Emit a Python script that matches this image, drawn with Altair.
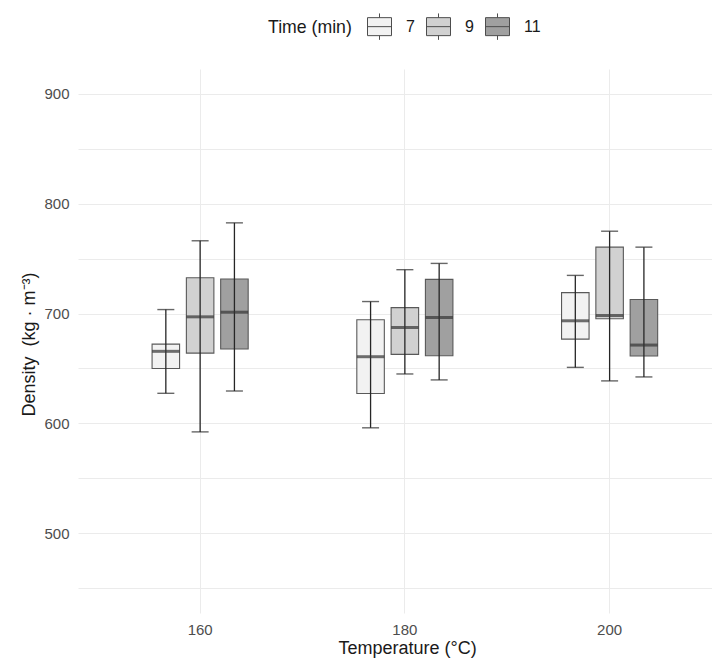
import altair as alt
import pandas as pd

# ---- data ----
temperature = ["160", "160", "160", "180", "180", "180", "200", "200", "200"]
time_min    = ["7", "9", "11", "7", "9", "11", "7", "9", "11"]
whisk_low   = [627.4, 592.3, 629.5, 596.0, 645.0, 639.6, 651.0, 638.7, 642.3]
q1          = [650.0, 664.0, 667.7, 627.2, 662.8, 661.6, 676.7, 695.2, 661.3]
median      = [665.6, 697.0, 701.2, 660.7, 687.3, 696.4, 693.4, 698.2, 671.3]
q3          = [672.2, 732.6, 731.4, 694.3, 705.4, 731.1, 719.0, 760.4, 712.7]
whisk_high  = [703.6, 766.2, 782.5, 710.9, 739.9, 745.6, 734.7, 774.9, 760.4]

temp_levels = ["160", "180", "200"]
time_levels = ["7", "9", "11"]
fill_colors = ["#f2f2f2", "#d1d1d1", "#a0a0a0"]
y_ticks = [450, 500, 550, 600, 650, 700, 750, 800, 850, 900]

df = pd.DataFrame({
    "temp": temperature, "time": time_min, "lo": whisk_low, "q1": q1,
    "med": median, "q3": q3, "hi": whisk_high,
})

FONT = "Liberation Sans"
YTITLE = "Density\u00a0 (kg · m⁻³)"

yscale = alt.Scale(domain=[427.5, 922.5], nice=False, zero=False)
yaxis = alt.Axis(
    values=y_ticks,
    labelExpr="datum.value % 100 == 0 ? datum.label : ''",
    grid=True, gridColor="#ebebeb", gridWidth=1,
    domain=False, ticks=False, tickSize=0, labelPadding=9,
    labelFontSize=15, labelColor="#4d4d4d", labelFont=FONT,
    titleFont=FONT, titleFontSize=18, titleFontWeight="normal", titleColor="#1a1a1a",
    titleX=-49, titleY=275, titleAngle=-90, titleAlign="center", titleBaseline="middle",
)

def Y(field):
    return alt.Y(f"{field}:Q", scale=yscale, axis=yaxis, title=YTITLE)

xaxis = alt.Axis(
    grid=True, gridColor="#ebebeb", gridWidth=1, bandPosition=0.5,
    domain=False, ticks=False, tickSize=0, labelPadding=9, labelAngle=0,
    labelFontSize=15, labelColor="#4d4d4d", labelFont=FONT,
    titleFont=FONT, titleFontSize=18, titleFontWeight="normal", titleColor="#1a1a1a",
    titleX=329, titleY=35, titleAlign="center", titleBaseline="middle",
)

base = alt.Chart(df).encode(
    x=alt.X("temp:N", sort=temp_levels, title="Temperature (°C)", axis=xaxis,
            scale=alt.Scale(domain=temp_levels, paddingInner=0, paddingOuter=0.0483,
                            align=1, round=False)),
    xOffset=alt.XOffset("time:N", sort=time_levels,
                        scale=alt.Scale(domain=time_levels, range=[54.3, 150.4],
                                        paddingInner=0.198, paddingOuter=0)),
)

legend_path = "M-1,-0.75H1V0.75H-1Z M-1,0H1 M0,-0.75V-1.1 M0,0.75V1.1"

bars = base.mark_bar(stroke="#595959", strokeWidth=1.1).encode(
    y=Y("q1"), y2="q3",
    fill=alt.Fill("time:N", sort=time_levels,
                  scale=alt.Scale(domain=time_levels, range=fill_colors),
                  legend=alt.Legend(
                      title="Time (min)", orient="none", legendX=190, legendY=-55,
                      direction="horizontal", titleOrient="left",
                      titleBaseline="middle", titleAnchor="middle",
                      symbolType=legend_path, symbolSize=576,
                      symbolStrokeColor="#4d4d4d", symbolStrokeWidth=1,
                      labelFontSize=16, labelFont=FONT, labelColor="#1a1a1a",
                      titleFontSize=17.7, titleFont=FONT, titleFontWeight="normal",
                      titleColor="#1a1a1a",
                      labelOffset=14, columnPadding=9, titlePadding=15,
                  )),
)

whiskers = base.mark_rule(color="#262626", strokeWidth=1.3).encode(y=Y("lo"), y2="hi")
medians = base.mark_tick(color="#333333", thickness=3, size=27.5).encode(y=Y("med"))
cap_hi = base.mark_tick(color="#262626", thickness=1.4, size=17).encode(y=Y("hi"))
cap_lo = base.mark_tick(color="#262626", thickness=1.4, size=17).encode(y=Y("lo"))

chart = alt.layer(bars, whiskers, medians, cap_hi, cap_lo).properties(
    width=634, height=544,
    background="white",
    autosize=alt.AutoSizeParams(type="none"),
    padding={"left": 70, "top": 61, "right": 0, "bottom": 45},
).configure_view(stroke=None)

chart.save("out.html", embed_options={"renderer": "svg", "actions": False})
